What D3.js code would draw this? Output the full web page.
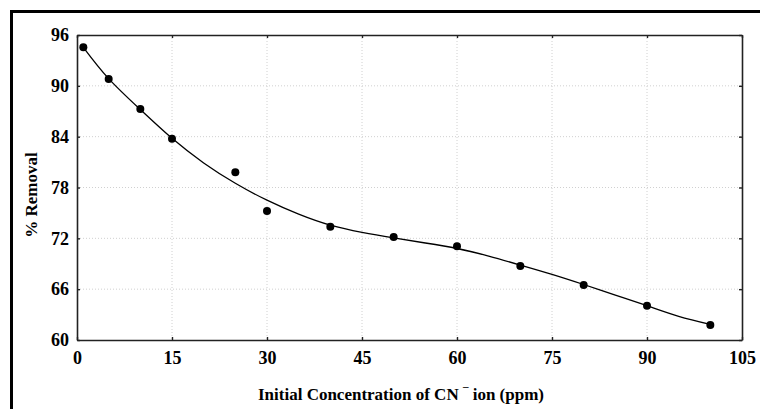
<!doctype html>
<html>
  <head>
    <meta charset="utf-8">
    <title>% Removal vs CN- concentration</title>
    <script type="text/javascript" src="https://d3js.org/d3.v7.min.js"></script>
    <style>
      body { margin: 0; background: #fff; }
      text { font-family: "Liberation Serif", "Times New Roman", serif; font-weight: bold; fill: #000; }
    </style>
  </head>
  <body>
    <script>
      // measured points
      const concentrations = [1, 5, 10, 15, 25, 30, 40, 50, 60, 70, 80, 90, 100];
      const removals = [94.55, 90.8, 87.27, 83.76, 79.8, 75.23, 73.38, 72.16, 71.06, 68.73, 66.5, 64.05, 61.77];

      // fitted curve
      const fitX = [1, 5, 10, 15, 20, 25, 30, 35, 40, 45, 50, 55, 60, 65, 70, 75, 80, 85, 90, 95, 100];
      const fitY = [94.55, 90.85, 87.2, 83.8, 80.9, 78.5, 76.5, 74.85, 73.55, 72.7, 72.05, 71.45, 70.8, 69.9, 68.85, 67.75, 66.55, 65.3, 64.05, 62.8, 61.85];

      const xTicks = [0, 15, 30, 45, 60, 75, 90, 105];
      const yTicks = [60, 66, 72, 78, 84, 90, 96];

      const width = 760;
      const height = 409;
      const margin = { top: 35, right: 18, bottom: 69, left: 77 };
      const innerW = width - margin.left - margin.right;
      const innerH = height - margin.top - margin.bottom;

      const svg = d3.select('body').append('svg')
          .attr('width', width)
          .attr('height', height);

      // outer frame (only top and left visible)
      svg.append('path')
          .attr('d', `M11.5,409 V11.5 H760`)
          .attr('fill', 'none')
          .attr('stroke', '#000')
          .attr('stroke-width', 3);

      const x = d3.scaleLinear().domain([0, 105]).range([0, innerW]);
      const y = d3.scaleLinear().domain([60, 96]).range([innerH, 0]);

      const g = svg.append('g')
          .attr('transform', `translate(${margin.left},${margin.top})`);

      // dotted grid
      g.append('g')
        .selectAll('line')
        .data(xTicks.slice(1, -1))
        .join('line')
          .attr('x1', d => x(d)).attr('x2', d => x(d))
          .attr('y1', 0).attr('y2', innerH)
          .attr('stroke', '#d0d0d0')
          .attr('stroke-dasharray', '1,2');
      g.append('g')
        .selectAll('line')
        .data(yTicks.slice(1, -1))
        .join('line')
          .attr('x1', 0).attr('x2', innerW)
          .attr('y1', d => y(d)).attr('y2', d => y(d))
          .attr('stroke', '#d0d0d0')
          .attr('stroke-dasharray', '1,2');

      // axes with inward ticks
      const axisStyle = sel => {
        sel.select('.domain').attr('stroke', '#222').attr('stroke-width', 1.6);
        sel.selectAll('.tick line').attr('stroke', '#222').attr('stroke-width', 1.4);
        sel.selectAll('.tick text')
            .attr('font-family', '"Liberation Serif", serif')
            .attr('font-weight', 'bold')
            .attr('font-size', 18)
            .attr('fill', '#000');
      };

      g.append('g')
          .attr('transform', `translate(0,${innerH})`)
          .call(d3.axisBottom(x).tickValues(xTicks).tickSizeInner(-3).tickSizeOuter(0).tickPadding(11))
          .call(axisStyle);
      g.append('g')
          .call(d3.axisLeft(y).tickValues(yTicks).tickSizeInner(-3).tickSizeOuter(0).tickPadding(8))
          .call(axisStyle);
      g.append('g')
          .call(d3.axisTop(x).tickValues(xTicks).tickSizeInner(-3).tickSizeOuter(0).tickFormat(''))
          .call(axisStyle);
      g.append('g')
          .attr('transform', `translate(${innerW},0)`)
          .call(d3.axisRight(y).tickValues(yTicks).tickSizeInner(-3).tickSizeOuter(0).tickFormat(''))
          .call(axisStyle);

      // fitted curve
      const line = d3.line()
          .x((d, i) => x(fitX[i]))
          .y(d => y(d))
          .curve(d3.curveNatural);
      g.append('path')
          .datum(fitY)
          .attr('d', line)
          .attr('fill', 'none')
          .attr('stroke', '#000')
          .attr('stroke-width', 1.3);

      // points
      g.append('g')
        .selectAll('circle')
        .data(removals)
        .join('circle')
          .attr('cx', (d, i) => x(concentrations[i]))
          .attr('cy', d => y(d))
          .attr('r', 4)
          .attr('fill', '#000');

      // axis titles
      const xt = svg.append('text')
          .attr('x', 401)
          .attr('y', 400)
          .attr('text-anchor', 'middle')
          .attr('font-size', 17);
      xt.append('tspan').text('Initial Concentration of CN ');
      xt.append('tspan').attr('dy', -5).attr('font-size', 11).text('¯');
      xt.append('tspan').attr('dy', 5).text(' ion (ppm)');

      svg.append('text')
          .attr('transform', 'translate(37,195) rotate(-90)')
          .attr('text-anchor', 'middle')
          .attr('font-size', 17)
          .text('% Removal');
    </script>
  </body>
</html>
